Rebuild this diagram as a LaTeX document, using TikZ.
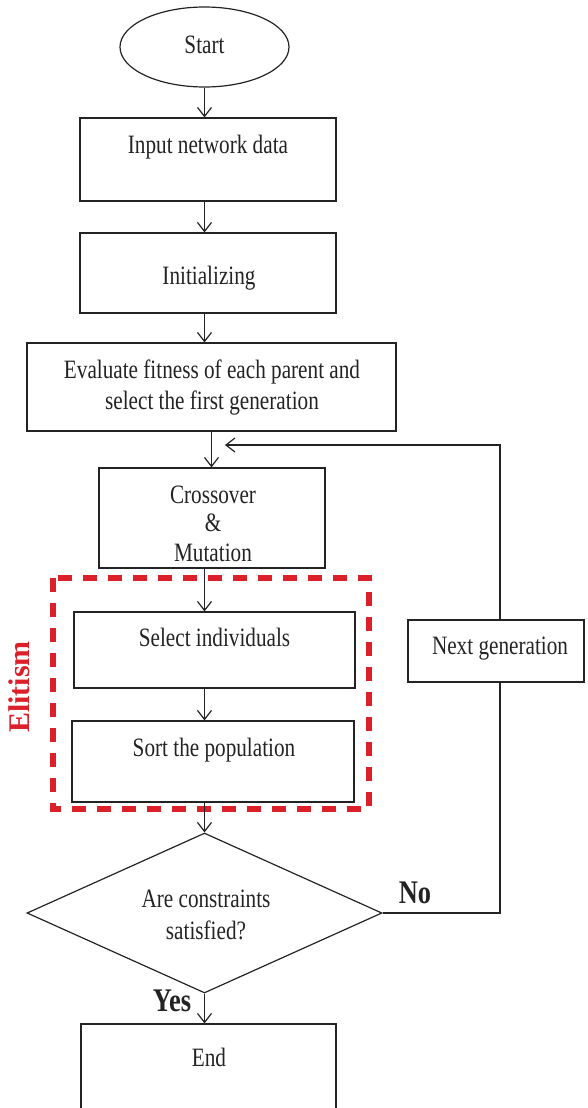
\documentclass[tikz,border=0pt]{standalone}
\usepackage{fontspec}
\setmainfont{Liberation Serif}
\newfontfamily\condfont[FakeStretch=0.8]{Liberation Serif}
\usetikzlibrary{shapes.geometric,arrows.meta}
\definecolor{elitred}{RGB}{220,32,42}
\definecolor{ink}{RGB}{35,35,35}
\begin{document}
\begin{tikzpicture}[x=1pt,y=-1pt,
  line/.style={draw=ink,line width=1.2pt},
  arr/.style={line,-{Straight Barb[length=9pt,width=14pt,line width=1.2pt]}},
  box/.style={line,rectangle,inner sep=0pt},
  txt/.style={anchor=base,inner sep=0pt,text=ink,font=\condfont\fontsize{26.5}{30}\selectfont},
  lbl/.style={anchor=base,inner sep=0pt,text=ink,font=\condfont\fontsize{33}{36}\selectfont\bfseries},
  elit/.style={draw=elitred,line width=6pt,dash pattern=on 14pt off 11pt}
]
\useasboundingbox (0,0) rectangle (588,1108);

% shapes
\node[line,ellipse,minimum width=169pt,minimum height=80pt,inner sep=0pt] (start) at (204.5,47) {};
\node[box,minimum width=256pt,minimum height=83pt] (input) at (208,159.5) {};
\node[box,minimum width=256pt,minimum height=80pt] (init) at (208,273) {};
\node[box,minimum width=369pt,minimum height=88pt] (eval) at (211.5,387) {};
\node[box,minimum width=226pt,minimum height=100pt] (cross) at (212,518) {};
\node[box,minimum width=281pt,minimum height=76pt] (select) at (214.5,650) {};
\node[box,minimum width=282pt,minimum height=81pt] (sort) at (213,761.5) {};
\node[box,minimum width=176pt,minimum height=62pt] (next) at (496,651) {};
\node[line,diamond,minimum width=355pt,minimum height=160pt,inner sep=0pt] (diam) at (204.5,913) {};
\node[box,minimum width=255pt,minimum height=92pt] (end) at (208.5,1070) {};

% elitism frame
\draw[elit] (53,578) rectangle (369,809);
\node[rotate=90,inner sep=0pt,text=elitred,font=\fontsize{30}{32}\selectfont\bfseries] (elitism) at (19,687) {Elitism};

% texts
\node[txt] (tstart) at (204.5,53) {Start};
\node[txt] (tinput) at (208,153) {Input network data};
\node[txt] (tinit) at (209,284) {Initializing};
\node[txt] (teval1) at (212,378) {Evaluate fitness of each parent and};
\node[txt] (teval2) at (212,409) {select the first generation};
\node[txt] (tcross1) at (213,503) {Crossover};
\node[txt] (tcross2) at (213,531) {\&};
\node[txt] (tcross3) at (213,561) {Mutation};
\node[txt] (tselect) at (214.5,646) {Select individuals};
\node[txt] (tsort) at (214,756) {Sort the population};
\node[txt] (tnext) at (500,654) {Next generation};
\node[txt] (tdiam1) at (206,907) {Are constraints};
\node[txt] (tdiam2) at (206,939) {satisfied?};
\node[txt] (tend) at (209,1066) {End};
\node[lbl] (no) at (415,903) {No};
\node[lbl] (yes) at (172,1011) {Yes};

% connectors
\draw[arr] (start.south) -- (start.south |- input.north);
\draw[arr] (start.south |- input.south) -- (start.south |- init.north);
\draw[arr] (start.south |- init.south) -- (start.south |- eval.north);
\draw[arr] (eval.south) -- (eval.south |- cross.north);
\draw[arr] (start.south |- cross.south) -- (start.south |- select.north);
\draw[arr] (start.south |- select.south) -- (start.south |- sort.north);
\draw[arr] (start.south |- sort.south) -- (diam.north);
\draw[arr] (diam.south) -- (diam.south |- end.north);

\coordinate (fbB) at (500,913);
\coordinate (fbT) at (500,445);
\coordinate (fbtip) at (225,445);
\draw[line] (diam.east) -- (fbB) -- (fbB |- next.south);
\draw[arr] (fbB |- next.north) -- (fbT) -- (fbtip);
\end{tikzpicture}
\end{document}
